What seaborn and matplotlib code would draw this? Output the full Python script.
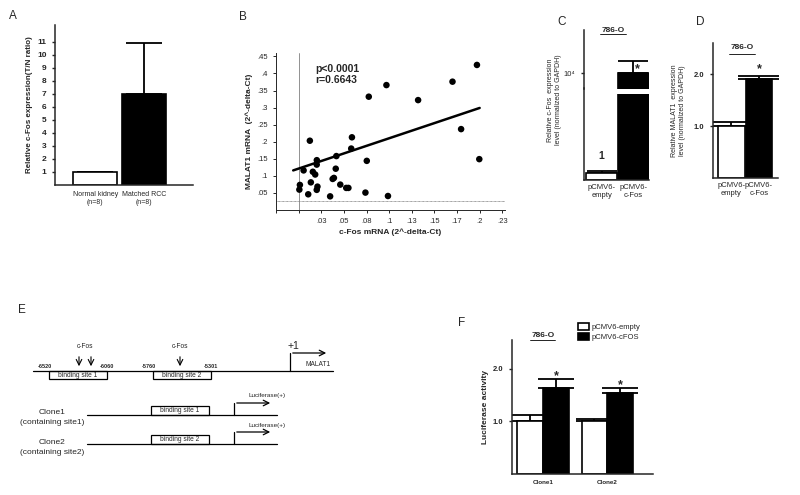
import numpy as np
import pandas as pd
import seaborn as sns
import matplotlib.pyplot as plt
from matplotlib.patches import Rectangle

# ---- data ----
a_groups = ["Normal kidney\n(n=8)", "Matched RCC\n(n=8)"]
a_values = [1.0, 7.0]
a_err = [0.0, 3.9]

b_cfos = [0.197, 0.170, 0.097, 0.0775, 0.132, 0.1795, 0.1996, 0.0124, 0.0589, 0.0581,
          0.0417, 0.0753, 0.0201, 0.020, 0.0055, 0.0157, 0.0183, 0.041, 0.039, 0.0376,
          0.0135, 0.0014, 0.0008, 0.0208, 0.020, 0.046, 0.0526, 0.055, 0.0106, 0.0348,
          0.0738, 0.0987]
b_malat1 = [0.425, 0.376, 0.366, 0.332, 0.322, 0.237, 0.149, 0.203, 0.213, 0.180,
            0.158, 0.144, 0.146, 0.133, 0.116, 0.112, 0.104, 0.121, 0.094, 0.091,
            0.081, 0.0735, 0.0597, 0.0685, 0.059, 0.0744, 0.0647, 0.0647, 0.046, 0.040,
            0.051, 0.041]
b_fit_x = [-0.006, 0.2]
b_fit_y = [0.116, 0.299]
b_xticks = [-0.025, 0, 0.025, 0.05, 0.075, 0.1, 0.125, 0.15, 0.175, 0.2, 0.225]
b_xlabels = ["", "", ".03", ".05", ".08", ".1", ".13", ".15", ".17", ".2", ".23"]
b_yticks = [0.05, 0.1, 0.15, 0.2, 0.25, 0.3, 0.35, 0.4, 0.45]
b_ylabels = [".05", ".1", ".15", ".2", ".25", ".3", ".35", ".4", ".45"]

c_groups = ["pCMV6-\nempty", "pCMV6-\nc-Fos"]
c_values = [1.0, 10000.0]
c_err = [0.3, 1500.0]

d_groups = ["pCMV6-\nempty", "pCMV6-\nc-Fos"]
d_values = [1.0, 1.9]
d_err = [0.07, 0.07]

f_clones = ["Clone1", "Clone1", "Clone2", "Clone2"]
f_vectors = ["pCMV6-empty", "pCMV6-cFOS", "pCMV6-empty", "pCMV6-cFOS"]
f_values = [1.0, 1.63, 1.01, 1.55]
f_err = [0.13, 0.18, 0.04, 0.08]

sns.set_style("ticks")
plt.rcParams["font.family"] = ["Liberation Sans", "DejaVu Sans"]
plt.rcParams["axes.linewidth"] = 1.1
plt.rcParams["xtick.major.width"] = 1.0
plt.rcParams["ytick.major.width"] = 1.0
plt.rcParams["xtick.major.size"] = 2.5
plt.rcParams["ytick.major.size"] = 2.5

W, H = 800, 495
fig = plt.figure(figsize=(8, 4.95), dpi=100)


def box(l, t, r, b):
    return [l / W, 1 - b / H, (r - l) / W, (b - t) / H]


def err_up(ax, values, err, cap, xs=None):
    if xs is None:
        xs = np.arange(len(values))
    ax.errorbar(xs, values, yerr=[np.zeros(len(err)), err], fmt="none",
                ecolor="black", elinewidth=1.3, capsize=cap, capthick=1.3, zorder=1)


# overlay for panel letters and diagram E (pixel coords)
ov = fig.add_axes([0, 0, 1, 1], zorder=-1)
ov.set_xlim(0, W)
ov.set_ylim(H, 0)
ov.axis("off")
for letter, x, y in [("A", 13, 16), ("B", 243, 17), ("C", 562, 22), ("D", 700, 22),
                     ("E", 22, 310), ("F", 462, 323)]:
    ov.text(x, y, letter, fontsize=8.5, ha="center", va="center")

# ---- A ----
axa = fig.add_axes(box(55, 25, 193, 185))
dfa = pd.DataFrame({"group": a_groups, "value": a_values})
sns.barplot(data=dfa, x="group", y="value", hue="group", palette=["white", "black"],
            edgecolor="black", linewidth=1.2, width=0.9, legend=False, ax=axa, zorder=2)
err_up(axa, a_values, a_err, 13)
axa.set_xlim(-0.82, 2.0)
axa.set_ylim(0, 12.3)
axa.set_yticks(range(1, 12))
axa.tick_params(axis="y", labelsize=6)
for t in axa.get_yticklabels():
    t.set_fontweight("bold")
axa.tick_params(axis="x", length=0, labelsize=5, pad=4)
axa.set_xlabel("")
axa.set_ylabel("Relative c-Fos expression(T/N ratio)", fontsize=5.8, fontweight="bold", labelpad=3)
sns.despine(ax=axa)

# ---- B ----
axb = fig.add_axes(box(276, 53, 505, 210))
dfb = pd.DataFrame({"cfos": b_cfos, "malat1": b_malat1})
sns.scatterplot(data=dfb, x="cfos", y="malat1", s=22, color="black", edgecolor="none",
                ax=axb, zorder=3)
sns.lineplot(x=b_fit_x, y=b_fit_y, color="black", lw=1.8, ax=axb, zorder=2)
axb.axvline(0, color="gray", lw=0.6, zorder=1)
axb.axhline(0.027, color="gray", lw=0.6, ls=(0, (1, 0.6)), zorder=1)
axb.set_xlim(-0.025, 0.228)
axb.set_ylim(0, 0.46)
axb.set_xticks(b_xticks)
axb.set_xticklabels(b_xlabels)
axb.set_yticks(b_yticks)
axb.set_yticklabels(b_ylabels)
axb.tick_params(labelsize=5.5, width=0.7)
axb.spines["left"].set_linewidth(0.7)
axb.spines["bottom"].set_linewidth(0.7)
axb.set_xlabel("c-Fos mRNA (2^-delta-Ct)", fontsize=6, fontweight="bold", labelpad=2)
axb.set_ylabel("MALAT1 mRNA  (2^-delta-Ct)", fontsize=6, fontweight="bold", labelpad=3)
axb.text(0.17, 0.93, "p<0.0001\nr=0.6643", transform=axb.transAxes, fontsize=7.5,
         fontweight="bold", va="top", linespacing=1.15)
sns.despine(ax=axb)

# ---- C (broken axis) ----
dfc = pd.DataFrame({"group": c_groups, "value": c_values})
axc_top = fig.add_axes(box(584, 30, 649, 89))
axc_bot = fig.add_axes(box(584, 94, 649, 180))
for ax in (axc_top, axc_bot):
    sns.barplot(data=dfc, x="group", y="value", hue="group", palette=["white", "black"],
                edgecolor="black", linewidth=1.2, width=0.97, legend=False, ax=ax, zorder=2)
    ax.set_xlim(-0.56, 1.5)
    ax.set_xlabel("")
    ax.set_ylabel("")
err_up(axc_top, c_values, c_err, 11)
err_up(axc_bot, c_values, c_err, 11)
axc_top.set_ylim(8000, 15400)
axc_top.set_yticks([10000])
axc_top.set_yticklabels(["10⁴"])
axc_top.tick_params(axis="y", labelsize=5.5)
axc_top.set_xticks([])
axc_top.spines["bottom"].set_visible(False)
axc_top.spines["top"].set_visible(False)
axc_top.spines["right"].set_visible(False)
axc_bot.set_ylim(0, 12)
axc_bot.set_yticks([])
axc_bot.tick_params(axis="x", length=0, labelsize=5.5, pad=3)
axc_bot.spines["left"].set_bounds(0, 12.8)
sns.despine(ax=axc_bot)
axc_bot.text(0, c_values[0] + 1.6, "1", ha="center", va="bottom", fontsize=7.5, fontweight="bold")
axc_top.text(1.12, c_values[1] + 500, "*", ha="center", va="center", fontsize=9, fontweight="bold")
axc_top.text(0.45, 1.0, "786-O", transform=axc_top.transAxes, ha="center", va="center",
             fontsize=6, fontweight="bold")
axc_top.plot([0.25, 0.65], [0.93, 0.93], transform=axc_top.transAxes, color="black",
             lw=0.6, clip_on=False)
fig.text(555 / W, 1 - 100 / H, "Relative c-Fos  expression\nlevel (normalized to GAPDH)",
         rotation=90, ha="center", va="center", fontsize=5, linespacing=1.2)

# ---- D ----
axd = fig.add_axes(box(713, 43, 778, 178))
dfd = pd.DataFrame({"group": d_groups, "value": d_values})
sns.barplot(data=dfd, x="group", y="value", hue="group", palette=["white", "black"],
            edgecolor="black", linewidth=1.2, width=0.97, legend=False, ax=axd, zorder=2)
err_up(axd, d_values, d_err, 15)
axd.set_xlim(-0.67, 1.69)
axd.set_ylim(0, 2.6)
axd.set_yticks([1.0, 2.0])
axd.set_yticklabels(["1.0", "2.0"])
axd.tick_params(axis="y", labelsize=5.5)
for t in axd.get_yticklabels():
    t.set_fontweight("bold")
axd.tick_params(axis="x", length=0, labelsize=5.5, pad=3)
axd.set_xlabel("")
axd.set_ylabel("Relative MALAT1  expression\nlevel (normalized to GAPDH)", fontsize=5,
               linespacing=1.2, labelpad=6)
axd.text(1, d_values[1] + d_err[1] + 0.12, "*", ha="center", va="center", fontsize=9, fontweight="bold")
axd.text(0.45, 0.97, "786-O", transform=axd.transAxes, ha="center", va="center",
         fontsize=6, fontweight="bold")
axd.plot([0.25, 0.65], [0.92, 0.92], transform=axd.transAxes, color="black", lw=0.6, clip_on=False)
sns.despine(ax=axd)

# ---- F ----
axf = fig.add_axes(box(511.7, 340, 652.7, 474))
dff = pd.DataFrame({"clone": f_clones, "vector": f_vectors, "value": f_values})
sns.barplot(data=dff, x="clone", y="value", hue="vector", palette=["white", "black"],
            edgecolor="black", linewidth=1.2, width=0.8, ax=axf, zorder=2)
bars = sorted([p for p in axf.patches if p.get_height() > 0], key=lambda p: p.get_x())
centers = [p.get_x() + p.get_width() / 2 for p in bars]
heights = [p.get_height() for p in bars]
errs = []
for p in bars:
    for v, e in zip(f_values, f_err):
        if abs(p.get_height() - v) < 1e-9:
            errs.append(e)
            break
err_up(axf, heights, errs, 13, xs=centers)
for cx, h, e in zip(centers, heights, errs):
    if h > 1.2:
        axf.text(cx, h + e + 0.06, "*", ha="center", va="center", fontsize=9, fontweight="bold")
axf.set_xlim(-0.49, 1.71)
axf.set_ylim(0, 2.55)
axf.set_yticks([1.0, 2.0])
axf.set_yticklabels(["1.0", "2.0"])
axf.tick_params(axis="y", labelsize=5.5)
for t in axf.get_yticklabels():
    t.set_fontweight("bold")
axf.tick_params(axis="x", length=0, labelsize=4.5, pad=4)
for t in axf.get_xticklabels():
    t.set_fontweight("bold")
axf.set_xlabel("")
axf.set_ylabel("Luciferase activity", fontsize=6, fontweight="bold", labelpad=3)
axf.legend(title=None, frameon=False, loc="upper left", bbox_to_anchor=(0.45, 1.15),
           fontsize=5.5, handlelength=1.4, handleheight=1.0, handletextpad=0.3,
           labelspacing=0.25, borderaxespad=0)
axf.text(0.22, 1.03, "786-O", transform=axf.transAxes, ha="center", va="center",
         fontsize=6, fontweight="bold")
axf.plot([0.13, 0.31], [1.0, 1.0], transform=axf.transAxes, color="black", lw=0.6, clip_on=False)
sns.despine(ax=axf)

# ---- E (promoter diagram, pixel coordinates) ----
lw = 0.9
ov.plot([33, 333], [371, 371], color="black", lw=lw)
e_sites = [(49, 107, "binding site 1", "-6520", "-6060"), (153, 211, "binding site 2", "-5760", "-5301")]
for l, r, name, lo, hi in e_sites:
    ov.add_patch(Rectangle((l, 371), r - l, 8, fill=False, lw=lw, ec="black"))
    ov.text((l + r) / 2, 375.5, name, ha="center", va="center", fontsize=4.8)
    ov.text(l - 4, 366.5, lo, ha="center", va="center", fontsize=4, fontweight="bold")
    ov.text(r, 366.5, hi, ha="center", va="center", fontsize=4, fontweight="bold")
for ax_x in [79, 91, 180]:
    ov.annotate("", xy=(ax_x, 369), xytext=(ax_x, 354),
                arrowprops=dict(arrowstyle="->", lw=0.8, color="black"))
ov.text(85, 347, "c-Fos", ha="center", va="center", fontsize=4.8)
ov.text(180, 347, "c-Fos", ha="center", va="center", fontsize=4.8)
ov.plot([290, 290], [371, 353], color="black", lw=lw)
ov.annotate("", xy=(329, 353), xytext=(290, 353),
            arrowprops=dict(arrowstyle="->", lw=lw, color="black"))
ov.text(288, 346, "+1", ha="left", va="center", fontsize=7.5)
ov.text(318, 364, "MALAT1", ha="center", va="center", fontsize=4.8)
for y, name, site in [(415, "Clone1", "binding site 1"), (444, "Clone2", "binding site 2")]:
    ov.plot([87, 277], [y, y], color="black", lw=lw)
    ov.add_patch(Rectangle((151, y - 9), 58, 9, fill=False, lw=lw, ec="black"))
    ov.text(180, y - 4.5, site, ha="center", va="center", fontsize=4.8)
    ov.plot([234, 234], [y, y - 12], color="black", lw=lw)
    ov.annotate("", xy=(273, y - 12), xytext=(234, y - 12),
                arrowprops=dict(arrowstyle="->", lw=lw, color="black"))
    ov.text(267, y - 19, "Luciferase(+)", ha="center", va="center", fontsize=4.6)
    ov.text(52, y - 2, name, ha="center", va="center", fontsize=6)
    ov.text(52, y + 8, "(containing site%s)" % name[-1], ha="center", va="center", fontsize=6)

fig.savefig("out.png", dpi=100)
